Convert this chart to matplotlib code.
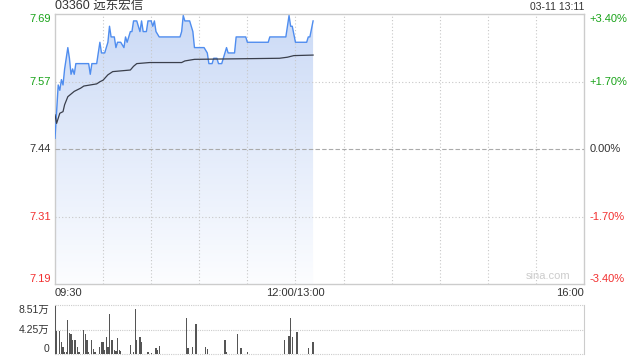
import matplotlib
matplotlib.use('Agg')
import matplotlib.pyplot as plt
import matplotlib.transforms as mtrans
from matplotlib.path import Path
from matplotlib.patches import PathPatch
import numpy as np

plt.rcParams['font.family'] = ['Liberation Sans', 'Noto Sans CJK SC', 'DejaVu Sans']

# minutes after 09:30 (lunch break squeezed out: 150 = 12:00/13:00)
price_t = [0, 1, 2, 3, 4, 5, 6, 7, 8, 9, 10, 11, 12, 13, 21, 22, 23, 26, 28, 29, 31,
           33, 34, 35, 37, 38, 39, 41, 43, 44, 45, 47, 48, 49, 51, 53, 54, 55, 57,
           58, 60, 61, 62, 63, 65, 78, 79, 80, 81, 84, 86, 87, 93, 95, 96, 98, 99,
           101, 102, 104, 106, 107, 108, 112, 113, 119, 120, 133, 134, 144, 146,
           147, 148, 150, 157, 158, 159, 161]
price_v = [7.46, 7.51, 7.56, 7.55, 7.57, 7.56, 7.59, 7.61, 7.63, 7.61, 7.58, 7.59, 7.58,
           7.60, 7.60, 7.58, 7.60, 7.60, 7.64, 7.62, 7.62, 7.64, 7.67, 7.65, 7.65,
           7.63, 7.64, 7.64, 7.63, 7.65, 7.64, 7.66, 7.66, 7.68, 7.68, 7.66, 7.68,
           7.66, 7.66, 7.68, 7.68, 7.67, 7.68, 7.66, 7.65, 7.65, 7.66, 7.69, 7.68,
           7.68, 7.66, 7.63, 7.63, 7.62, 7.60, 7.60, 7.61, 7.61, 7.60, 7.60, 7.62,
           7.63, 7.62, 7.62, 7.65, 7.65, 7.64, 7.64, 7.65, 7.65, 7.69, 7.67, 7.67,
           7.64, 7.64, 7.65, 7.65, 7.68]

avg_t = [0, 1, 3, 5, 6, 8, 12, 16, 18, 26, 28, 30, 33, 36, 47, 49, 51, 59, 79, 81,
         87, 140, 145, 149, 161]
avg_v = [7.504, 7.488, 7.507, 7.510, 7.523, 7.538, 7.548, 7.554, 7.558, 7.562,
         7.566, 7.569, 7.579, 7.585, 7.588, 7.595, 7.600, 7.602, 7.602, 7.605,
         7.608, 7.610, 7.612, 7.615, 7.616]

vol_t = [0, 1, 3, 4, 5, 6, 7, 8, 9, 10, 11, 12, 13, 14, 15, 18, 19, 20, 21, 23, 24,
         25, 28, 29, 30, 31, 32, 33, 34, 35, 36, 37, 38, 39, 40, 41, 47, 49, 50, 51,
         53, 54, 58, 60, 63, 64, 65, 82, 83, 86, 88, 94, 95, 106, 107, 114, 116,
         120, 143, 146, 147, 148, 151, 158, 161]
vol_v = [8.4, 4.0, 4.0, 2.0, 1.2, 0.4, 0.4, 5.9, 3.7, 3.5, 2.4, 2.4, 2.4, 1.3, 0.4,
         4.2, 3.5, 2.4, 0.4, 2.4, 0.8, 0.4, 1.3, 2.0, 2.0, 0.7, 3.0, 1.3, 6.9, 2.5,
         2.4, 0.7, 0.6, 2.7, 0.7, 0.6, 1.6, 0.4, 7.8, 2.4, 3.0, 2.0, 0.4, 0.2, 1.0,
         0.7, 1.4, 6.3, 1.0, 1.3, 5.2, 1.3, 0.8, 2.4, 0.4, 3.4, 1.0, 0.3, 2.5, 3.2,
         6.3, 2.9, 3.9, 1.0, 2.0]

prev_close = 7.44
pct_levels = [3.4, 1.7, 0.0, -1.7, -3.4]
price_labels = ['7.69', '7.57', '7.44', '7.31', '7.19']
pct_labels = ['+3.40%', '+1.70%', '0.00%', '-1.70%', '-3.40%']
label_colors = ['#19a319', '#19a319', '#333333', '#f23030', '#f23030']
x_ticks = [0, 150, 330]
x_labels = ['09:30', '12:00/13:00', '16:00']
vol_max = 8.51
vol_labels = ['8.51万', '4.25万', '0']

ymin = prev_close * (1 - 0.034)
ymax = prev_close * (1 + 0.034)

fig = plt.figure(figsize=(6.4, 3.6), dpi=100)
ax = fig.add_axes([55 / 640, 1 - 284 / 360, 529 / 640, 270 / 360])
av = fig.add_axes([55 / 640, 1 - 354 / 360, 529 / 640, 49 / 360])

ax.set_xlim(0, 330)
ax.set_ylim(ymin, ymax)
ax.set_xticks([])
ax.set_yticks([])
for s in ax.spines.values():
    s.set_color('#cccccc')
    s.set_linewidth(1)

# grid (drawn over the fill)
for m in range(30, 330, 30):
    ax.axvline(m, color='#c8c8c8', lw=0.8, ls=(0, (1, 2)), zorder=3)
for p in pct_levels[1:-1]:
    y = prev_close * (1 + p / 100)
    if p == 0:
        ax.axhline(y, color='#aaaaaa', lw=0.8, ls=(0, (4, 2)), zorder=3)
    else:
        ax.axhline(y, color='#c8c8c8', lw=0.8, ls=(0, (1, 2)), zorder=3)

# gradient fill under the price line
top = np.array([203, 218, 246]) / 255
bot = np.array([252, 253, 255]) / 255
k = np.linspace(0, 1, 256)[:, None]
grad = (top * (1 - k) + bot * k)[:, None, :]
im = ax.imshow(grad, extent=[price_t[0], price_t[-1], ymin, ymax], aspect='auto',
               origin='upper', zorder=2)
verts = np.column_stack([[price_t[0]] + price_t + [price_t[-1]],
                         [ymin] + price_v + [ymin]])
patch = PathPatch(Path(verts), facecolor='none', edgecolor='none')
ax.add_patch(patch)
im.set_clip_path(patch)
ax.set_xlim(0, 330)
ax.set_ylim(ymin, ymax)

ax.plot(price_t, price_v, color='#4f8def', lw=1.0, zorder=4)
ax.plot(avg_t, avg_v, color='#3a3f4c', lw=0.9, zorder=4)

# price / percent labels
tl = mtrans.blended_transform_factory(ax.transAxes, ax.transData)
for i, p in enumerate(pct_levels):
    y = prev_close * (1 + p / 100)
    va = 'top' if i == 0 else ('bottom' if i == len(pct_levels) - 1 else 'center')
    ax.text(-0.008, y, price_labels[i], transform=tl, ha='right', va=va,
            fontsize=8, color=label_colors[i])
    ax.text(1.01, y, pct_labels[i], transform=tl, ha='left', va=va,
            fontsize=8, color=label_colors[i])

# time labels
ha_list = ['left', 'center', 'right']
for m, lab, ha in zip(x_ticks, x_labels, ha_list):
    ax.text(m, -0.015, lab, transform=mtrans.blended_transform_factory(ax.transData, ax.transAxes),
            ha=ha, va='top', fontsize=8, color='#333333')

fig.text(55 / 640, 1 - 7 / 360, '03360 远东宏信', ha='left', va='center',
         fontsize=9, color='#333333')
fig.text(584 / 640, 1 - 7 / 360, '03-11 13:11', ha='right', va='center',
         fontsize=7.5, color='#333333')
ax.text(0.975, 0.01, 'sina.com', transform=ax.transAxes, ha='right', va='bottom',
        fontsize=8, color='#cccccc')

# volume panel
av.set_xlim(0, 330)
av.set_ylim(0, vol_max)
av.set_xticks([])
av.set_yticks([])
for side in ['top', 'bottom']:
    av.spines[side].set_visible(False)
for side in ['left', 'right']:
    av.spines[side].set_color('#cccccc')
for v in [0, vol_max / 2, vol_max]:
    av.axhline(v, color='#cccccc', lw=0.8, ls=(0, (1, 1)), zorder=1, clip_on=False)
av.bar(vol_t, vol_v, width=0.75, color='#555555', zorder=3)
vt = mtrans.blended_transform_factory(av.transAxes, av.transData)
av.text(-0.01, vol_max, vol_labels[0], transform=vt, ha='right', va='top', fontsize=7.5, color='#333333')
av.text(-0.01, vol_max / 2, vol_labels[1], transform=vt, ha='right', va='center', fontsize=7.5, color='#333333')
av.text(-0.01, 0, vol_labels[2], transform=vt, ha='right', va='bottom', fontsize=7.5, color='#333333')

fig.savefig('out.png', dpi=100)
